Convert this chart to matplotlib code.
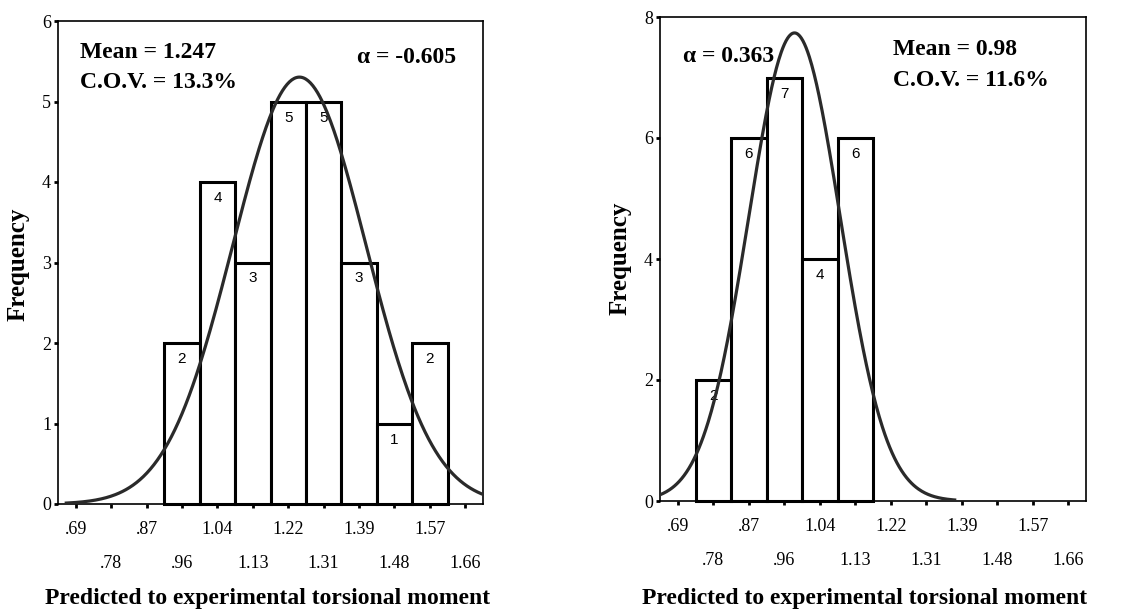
import numpy as np
import matplotlib
matplotlib.use("Agg")
import matplotlib.pyplot as plt

# ── Data ──────────────────────────────────────────────────────────────────────
BIN_LABELS = [".69", ".78", ".87", ".96", "1.04", "1.13",
              "1.22", "1.31", "1.39", "1.48", "1.57", "1.66"]
BIN_FIRST, BIN_LAST = 0.69, 1.66

left_counts  = [0, 0, 0, 2, 4, 3, 5, 5, 3, 1, 2, 0]
right_counts = [0, 2, 6, 7, 4, 6, 0, 0, 0, 0, 0, 0]

left_mean,  left_cov,  left_alpha  = 1.247, 0.133, "-0.605"
right_mean, right_cov, right_alpha = 0.98,  0.116, "0.363"

XLABEL = "Predicted to experimental torsional moment"
YLABEL = "Frequency"

SERIF = ["Liberation Serif", "DejaVu Serif"]
SANS  = ["Liberation Sans Narrow", "Liberation Sans", "DejaVu Sans"]

W, H = 1146, 610
fig = plt.figure(figsize=(W / 100, H / 100), dpi=100)


def panel(rect, counts, mean, cov, ymax, yticks):
    ax = fig.add_axes(rect)
    n = len(BIN_LABELS)
    width = (BIN_LAST - BIN_FIRST) / (n - 1)
    centers = BIN_FIRST + width * np.arange(n)

    # bars (only non-empty bins)
    for c, k in zip(centers, counts):
        if k == 0:
            continue
        ax.bar(c, k, width=width, facecolor="white", edgecolor="black",
               linewidth=2.2, zorder=2, clip_on=False)
        ax.annotate(str(k), (c, k), xytext=(0, -9), textcoords="offset pixels",
                    ha="center", va="top", fontsize=11, family=SANS, zorder=3)

    # fitted normal curve, drawn over mean +/- 3.5 sd
    sd = mean * cov
    total = sum(counts)
    xs = np.linspace(mean - 3.5 * sd, mean + 3.5 * sd, 400)
    ys = total * width / (sd * np.sqrt(2 * np.pi)) * np.exp(-0.5 * ((xs - mean) / sd) ** 2)
    ax.plot(xs, ys, color="#2a2a2a", lw=2.3, zorder=4, clip_on=True)

    ax.set_xlim(BIN_FIRST - 0.5 * width, BIN_LAST + 0.5 * width)
    ax.set_ylim(0, ymax)

    # staggered tick labels: even bins on first row, odd bins on second row
    ax.set_xticks(centers[0::2])
    ax.set_xticklabels(BIN_LABELS[0::2])
    ax.set_xticks(centers[1::2], minor=True)
    ax.set_xticklabels(BIN_LABELS[1::2], minor=True)
    ax.tick_params(axis="x", which="major", length=3, width=2, pad=9)
    ax.tick_params(axis="x", which="minor", length=3, width=2, pad=34)
    ax.set_yticks(yticks)
    ax.tick_params(axis="y", length=3, width=2, pad=2)
    for lab in ax.get_xticklabels(which="both") + ax.get_yticklabels():
        lab.set_family(SERIF)
        lab.set_fontsize(13)

    for s in ax.spines.values():
        s.set_linewidth(1.2)
    return ax


# ── Left panel ────────────────────────────────────────────────────────────────
ax1 = panel([58 / W, 1 - 504 / H, 425 / W, 483 / H], left_counts,
            left_mean, left_cov, 6, range(0, 7))
ax1.text(0.052, 0.923, f"Mean = {left_mean:.3f}", transform=ax1.transAxes,
         fontsize=17, fontweight="bold", family=SERIF, va="baseline")
ax1.text(0.052, 0.861, f"C.O.V. = {left_cov * 100:.1f}%", transform=ax1.transAxes,
         fontsize=17, fontweight="bold", family=SERIF, va="baseline")
ax1.text(0.703, 0.913, f"α = {left_alpha}", transform=ax1.transAxes,
         fontsize=17, fontweight="bold", family=SERIF, va="baseline")

# ── Right panel ───────────────────────────────────────────────────────────────
ax2 = panel([660 / W, 1 - 501 / H, 426 / W, 484 / H], right_counts,
            right_mean, right_cov, 8, range(0, 9, 2))
ax2.text(0.054, 0.907, f"α = {right_alpha}", transform=ax2.transAxes,
         fontsize=17, fontweight="bold", family=SERIF, va="baseline", zorder=5)
ax2.text(0.547, 0.9215, f"Mean = {right_mean:.2f}", transform=ax2.transAxes,
         fontsize=17, fontweight="bold", family=SERIF, va="baseline")
ax2.text(0.547, 0.857, f"C.O.V. = {right_cov * 100:.1f}%", transform=ax2.transAxes,
         fontsize=17, fontweight="bold", family=SERIF, va="baseline")

# axis titles
for xc, yc in [(18, 264), (620, 258)]:
    fig.text(xc / W, 1 - yc / H, YLABEL, rotation=90, ha="center", va="center",
             fontsize=18, fontweight="bold", family=SERIF)
for xc in [268, 865]:
    fig.text(xc / W, 1 - 604 / H, XLABEL, ha="center", va="baseline",
             fontsize=17, fontweight="bold", family=SERIF)

fig.savefig("out.png", dpi=100)
